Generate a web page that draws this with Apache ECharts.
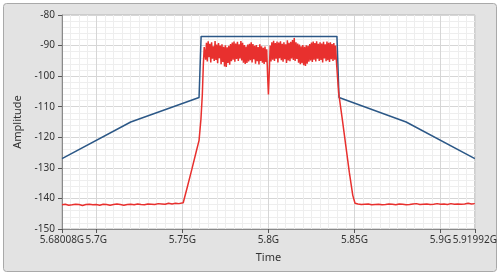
<!DOCTYPE html>
<html><head><meta charset="utf-8">
<script src="https://cdn.jsdelivr.net/npm/echarts@6/dist/echarts.min.js"></script>
<style>html,body{margin:0;padding:0;background:#fff}#c{width:500px;height:280px}</style>
</head><body><div id="c"></div>
<script>
// Axis settings
var xMin = 5.68008, xMax = 5.91992;
var yMin = -150, yMax = -80, yStep = 10;

// Mask (blue) trace: [frequency GHz, amplitude]
var maskPoints = [[5.68008,-127],[5.7200,-115],[5.7597,-107],[5.7609,-87],[5.8398,-87],[5.8410,-107],[5.8800,-115],[5.91992,-127]];

// Spectrum (red) trace, left noise floor
var floorLeft = [[5.68008,-142.1],[5.682,-141.9],[5.684,-142.2],[5.686,-142.1],[5.688,-141.9],[5.690,-142.0],[5.692,-142.3],[5.694,-142.0],[5.696,-141.9],[5.698,-142.1],[5.700,-142.0],[5.702,-142.2],[5.704,-141.9],[5.706,-142.0],[5.708,-142.2],[5.710,-142.0],[5.712,-141.8],[5.714,-142.0],[5.716,-142.2],[5.718,-142.0],[5.720,-141.9],[5.722,-142.1],[5.724,-141.8],[5.726,-142.0],[5.728,-142.1],[5.730,-141.8],[5.732,-141.9],[5.734,-142.0],[5.736,-141.7],[5.738,-141.8],[5.740,-141.9],[5.742,-141.6],[5.744,-141.8],[5.746,-141.6],[5.748,-141.7],[5.7505,-141.4]];

// rising edge
var riseEdge = [[5.7530,-136.0],[5.7555,-130.5],[5.7580,-124.8],[5.7597,-121.0],[5.7608,-114.0],[5.7616,-106.0],[5.7622,-96.0],[5.7627,-90.5]];

// occupied band
var bandPoints = [
[5.7630,-90.0],[5.7635,-94.6],[5.7640,-89.1],[5.7645,-95.2],[5.7650,-88.6],[5.7655,-93.8],[5.7660,-89.4],[5.7665,-95.5],[5.7670,-88.9],[5.7675,-94.3],
[5.7680,-90.2],[5.7685,-95.0],[5.7690,-88.5],[5.7695,-94.7],[5.7700,-89.7],[5.7705,-95.8],[5.7710,-89.2],[5.7715,-94.1],[5.7720,-90.0],[5.7725,-96.1],
[5.7730,-89.6],[5.7735,-95.4],[5.7740,-90.4],[5.7745,-96.8],[5.7750,-89.9],[5.7755,-97.0],[5.7760,-90.6],[5.7765,-95.7],[5.7770,-90.1],[5.7775,-96.3],
[5.7780,-89.5],[5.7785,-95.1],[5.7790,-89.0],[5.7795,-94.6],[5.7800,-88.7],[5.7805,-95.3],[5.7810,-89.3],[5.7815,-94.4],[5.7820,-88.8],[5.7825,-95.0],
[5.7830,-89.6],[5.7835,-94.2],[5.7840,-88.5],[5.7845,-94.9],[5.7850,-89.1],[5.7855,-95.6],[5.7860,-89.8],[5.7865,-96.0],[5.7870,-90.3],[5.7875,-95.7],
[5.7880,-89.7],[5.7885,-95.2],[5.7890,-89.4],[5.7895,-94.8],[5.7900,-88.9],[5.7905,-95.5],[5.7910,-89.5],[5.7915,-94.5],[5.7920,-90.1],[5.7925,-95.9],
[5.7930,-89.8],[5.7935,-95.1],[5.7940,-90.5],[5.7945,-96.2],[5.7950,-89.6],[5.7955,-95.0],[5.7960,-90.2],[5.7965,-95.6],[5.7970,-90.7],[5.7975,-96.0],
[5.7980,-90.3],[5.7985,-95.4],[5.7990,-91.2],[5.7995,-99.5],[5.8000,-106.0],[5.8005,-98.5],[5.8010,-90.0],[5.8015,-95.2],[5.8020,-88.9],[5.8025,-94.6],
[5.8030,-88.4],[5.8035,-95.0],[5.8040,-89.2],[5.8045,-94.3],[5.8050,-88.7],[5.8055,-95.5],[5.8060,-89.0],[5.8065,-94.1],[5.8070,-88.6],[5.8075,-94.8],
[5.8080,-89.4],[5.8085,-95.3],[5.8090,-88.9],[5.8095,-94.5],[5.8100,-89.6],[5.8105,-95.7],[5.8110,-88.3],[5.8115,-94.9],[5.8120,-89.1],[5.8125,-95.1],
[5.8130,-88.8],[5.8135,-94.2],[5.8140,-88.2],[5.8145,-94.7],[5.8150,-87.5],[5.8155,-95.0],[5.8160,-88.9],[5.8165,-94.4],[5.8170,-89.3],[5.8175,-95.6],
[5.8180,-89.7],[5.8185,-96.1],[5.8190,-90.2],[5.8195,-95.8],[5.8200,-89.8],[5.8205,-96.4],[5.8210,-90.4],[5.8215,-96.7],[5.8220,-89.9],[5.8225,-95.9],
[5.8230,-90.1],[5.8235,-95.3],[5.8240,-89.5],[5.8245,-94.9],[5.8250,-89.0],[5.8255,-95.4],[5.8260,-88.7],[5.8265,-94.6],[5.8270,-89.2],[5.8275,-95.2],
[5.8280,-88.6],[5.8285,-94.3],[5.8290,-89.4],[5.8295,-95.0],[5.8300,-88.9],[5.8305,-94.7],[5.8310,-89.3],[5.8315,-95.5],[5.8320,-88.8],[5.8325,-94.2],
[5.8330,-89.6],[5.8335,-95.1],[5.8340,-88.7],[5.8345,-94.8],[5.8350,-89.1],[5.8355,-95.4],[5.8360,-88.9],[5.8365,-94.5],[5.8370,-89.5],[5.8375,-95.0],
[5.8380,-89.2],[5.8385,-94.6],[5.8390,-90.0],[5.8395,-95.2]];

// falling edge
var fallEdge = [[5.8401,-100.0],[5.8408,-105.5],[5.8430,-114.5],[5.8450,-123.0],[5.8470,-131.5],[5.8490,-139.0],[5.8503,-141.6]];

// right noise floor
var floorRight = [[5.852,-141.8],[5.854,-142.0],[5.856,-141.9],[5.858,-141.8],[5.860,-142.1],[5.862,-142.0],[5.864,-141.9],[5.866,-142.1],[5.868,-142.0],[5.870,-141.8],[5.872,-141.9],[5.874,-142.1],[5.876,-141.8],[5.878,-141.9],[5.880,-142.1],[5.882,-142.0],[5.884,-141.8],[5.886,-141.7],[5.888,-142.0],[5.890,-141.9],[5.892,-141.8],[5.894,-142.0],[5.896,-141.9],[5.898,-141.7],[5.900,-141.9],[5.902,-141.8],[5.904,-142.0],[5.906,-141.7],[5.908,-141.9],[5.910,-141.8],[5.912,-141.9],[5.914,-141.8],[5.916,-141.6],[5.918,-141.8],[5.91992,-141.7]];

var redData = [].concat(floorLeft, riseEdge, bandPoints, fallEdge, floorRight);

var font = 'Noto Sans';
var chart = echarts.init(document.getElementById('c'), null, {renderer: 'canvas'});
chart.setOption({
  animation: false,
  backgroundColor: '#ffffff',
  graphic: [{
    type: 'rect', z: -10, silent: true,
    shape: {x: 3.5, y: 3.5, width: 493, height: 268, r: 3},
    style: {fill: '#e3e3e3', stroke: '#a9a9a9', lineWidth: 1}
  }],
  grid: {left: 62, right: 24, top: 15, bottom: 51, show: true, backgroundColor: '#ffffff', borderColor: '#b5b5b5', borderWidth: 1, z: 0},
  xAxis: {
    type: 'value', min: xMin, max: xMax, splitNumber: 5,
    name: 'Time', nameLocation: 'middle', nameGap: 23,
    nameTextStyle: {fontFamily: font, fontSize: 11, color: '#333'},
    axisLine: {show: true, onZero: false, lineStyle: {color: '#8a8a8a'}},
    axisTick: {show: true, length: 4, lineStyle: {color: '#555'}},
    axisLabel: {fontFamily: font, fontSize: 10, color: '#333', margin: 6, showMinLabel: true, showMaxLabel: true, interval: 0,
      formatter: function (v) { return (+v.toFixed(5)) + 'G'; }},
    splitLine: {show: true, lineStyle: {color: '#d6d6d6', width: 1}},
    minorTick: {show: false, splitNumber: 10},
    minorSplitLine: {show: true, lineStyle: {color: '#eeeeee', width: 1}}
  },
  yAxis: {
    type: 'value', min: yMin, max: yMax, interval: yStep,
    name: 'Amplitude', nameLocation: 'middle', nameRotate: 90, nameGap: 27,
    nameTextStyle: {fontFamily: font, fontSize: 11, color: '#333'},
    axisLine: {show: true, lineStyle: {color: '#8a8a8a'}},
    axisTick: {show: true, length: 4, lineStyle: {color: '#555'}},
    axisLabel: {fontFamily: font, fontSize: 10, color: '#333', margin: 7},
    splitLine: {show: true, lineStyle: {color: '#d6d6d6', width: 1}},
    minorTick: {show: false, splitNumber: 5},
    minorSplitLine: {show: true, lineStyle: {color: '#eeeeee', width: 1}}
  },
  series: [
    {type: 'line', name: 'Mask', data: maskPoints, showSymbol: false, symbol: 'none',
      lineStyle: {color: '#2c5887', width: 1.5}, z: 3},
    {type: 'line', name: 'Spectrum', data: redData, showSymbol: false, symbol: 'none', sampling: 'none',
      lineStyle: {color: '#e8302e', width: 1.5}, z: 4}
  ]
});
</script></body></html>
